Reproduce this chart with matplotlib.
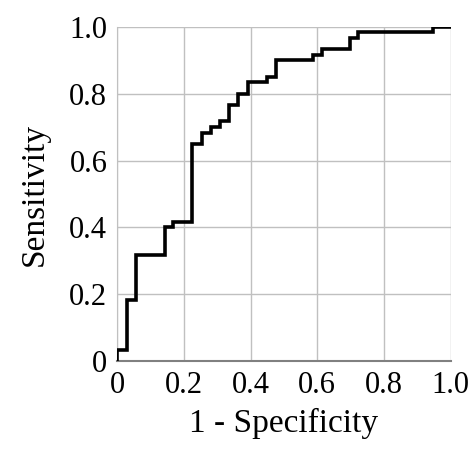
import matplotlib
matplotlib.use("Agg")
import matplotlib.pyplot as plt

# ROC step points
fpr = [0.0, 0.0, 0.03, 0.03, 0.058, 0.058, 0.143, 0.143, 0.168, 0.168, 0.225, 0.225,
       0.253, 0.253, 0.28, 0.28, 0.308, 0.308, 0.336, 0.336, 0.363, 0.363, 0.391, 0.391,
       0.448, 0.448, 0.475, 0.475, 0.586, 0.586, 0.613, 0.613, 0.698, 0.698, 0.723, 0.723,
       0.948, 0.948, 1.0]
tpr = [0.0, 0.034, 0.034, 0.184, 0.184, 0.317, 0.317, 0.40, 0.40, 0.417, 0.417, 0.649,
       0.649, 0.682, 0.682, 0.70, 0.70, 0.717, 0.717, 0.767, 0.767, 0.80, 0.80, 0.834,
       0.834, 0.85, 0.85, 0.90, 0.90, 0.917, 0.917, 0.934, 0.934, 0.967, 0.967, 0.984,
       0.984, 1.0, 1.0]
ticks = [0, 0.2, 0.4, 0.6, 0.8, 1.0]
tick_labels = ["0", "0.2", "0.4", "0.6", "0.8", "1.0"]

plt.rcParams['font.family'] = ['Liberation Serif', 'DejaVu Serif']

fig = plt.figure(figsize=(4.74, 4.49), dpi=100)
ax = fig.add_axes([0.247, 0.196, 0.704, 0.744])
ax.plot(fpr, tpr, color="black", lw=2.6, solid_joinstyle="miter", zorder=3)
ax.set_xlim(0, 1)
ax.set_ylim(0, 1)
ax.set_xticks(ticks)
ax.set_yticks(ticks)
ax.set_xticklabels(tick_labels)
ax.set_yticklabels(tick_labels)
ax.grid(True, color="#c0c0c0", lw=1)
ax.tick_params(length=0, labelsize=22, pad=7)
for s in ["top", "right"]:
    ax.spines[s].set_visible(False)
ax.spines["left"].set_color("#c0c0c0")
ax.spines["bottom"].set_color("#808080")
ax.spines["bottom"].set_linewidth(1.5)
ax.set_xlabel("1 - Specificity", fontsize=24, labelpad=6)
ax.set_ylabel("Sensitivity", fontsize=24, labelpad=14)
fig.savefig("out.png", dpi=100)
